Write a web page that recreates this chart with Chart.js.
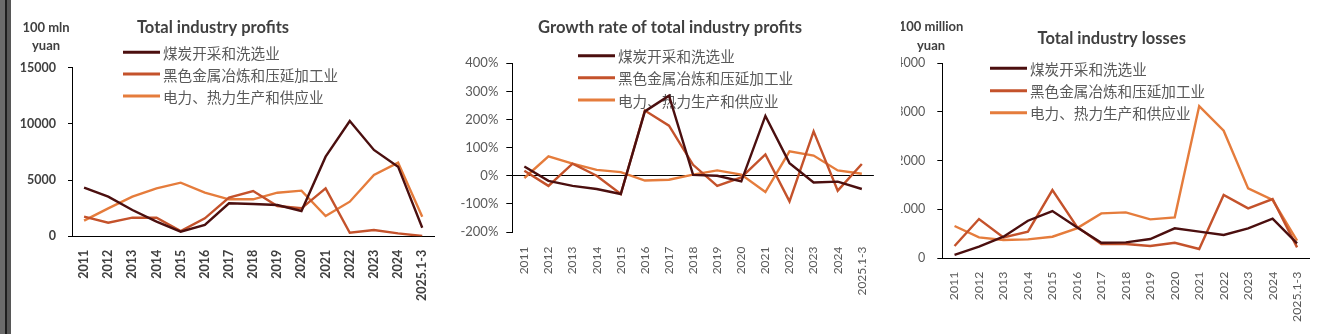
<!DOCTYPE html>
<html>
<head>
<meta charset="utf-8">
<script src="https://cdn.jsdelivr.net/npm/chart.js@4.4.1/dist/chart.umd.min.js"></script>
<style>
  html, body { margin: 0; padding: 0; background: #fff; }
  body { position: relative; width: 1326px; height: 334px; overflow: hidden; }
  .edge { position: absolute; top: 0; height: 334px; }
  canvas { position: absolute; top: 0; }
  #lossClip { position: absolute; left: 901px; top: 0; width: 425px; height: 334px; overflow: hidden; }
</style>
</head>
<body>
<div class="edge" style="left:0;width:5px;background:#6b6b6b"></div>
<div class="edge" style="left:5px;width:2px;background:#1e1e1e"></div>
<div class="edge" style="left:7px;width:4px;background:#575757"></div>

<canvas id="profits" width="440" height="334" style="left:11px"></canvas>
<canvas id="growth" width="446" height="334" style="left:445px"></canvas>
<div id="lossClip"><canvas id="losses" width="441" height="334" style="left:-16px"></canvas></div>

<script>
'use strict';

const categories = ['2011', '2012', '2013', '2014', '2015', '2016', '2017', '2018',
  '2019', '2020', '2021', '2022', '2023', '2024', '2025.1-3'];

const industries = ['煤炭开采和洗选业', '黑色金属冶炼和压延加工业', '电力、热力生产和供应业'];
const colors = ['#4b0f0f', '#c4522b', '#e57c3c'];

// 利润总额, 100 mln yuan
const profitCoal = [4330, 3525, 2340, 1300, 410, 1005, 2935, 2875, 2785, 2250, 7085, 10250, 7680, 6195, 765];
const profitSteel = [1745, 1210, 1655, 1655, 470, 1600, 3435, 4030, 2695, 2490, 4270, 320, 560, 265, 25];
const profitPower = [1390, 2490, 3525, 4270, 4770, 3880, 3290, 3290, 3880, 4060, 1805, 3080, 5455, 6550, 1745];

// 利润总额增速, %
const growthCoal = [33, -18, -36, -47, -65, 229, 285, 3, 0, -20, 213, 45, -24, -21, -47];
const growthSteel = [18, -36, 43, 0, -65, 232, 178, 39, -36, -6, 76, -91, 158, -53, 42];
const growthPower = [-8, 69, 43, 21, 13, -17, -14, 4, 19, 4, -58, 87, 72, 19, 7];

// 亏损总额, 100 million yuan
const lossCoal = [62, 232, 437, 766, 965, 630, 314, 322, 390, 609, 541, 472, 609, 808, 301];
const lossSteel = [246, 800, 424, 541, 1396, 644, 287, 287, 246, 314, 185, 1294, 1020, 1211, 219];
const lossPower = [657, 424, 370, 383, 437, 609, 917, 938, 794, 835, 3121, 2615, 1431, 1191, 356];

const DARK = '#404040';
const GREY = '#595959';
const LATIN = 'Lato, "Liberation Sans", sans-serif';
const CJK = '"Noto Sans CJK SC", sans-serif';

// title, unit caption and legend, placed in canvas pixels
const panelText = {
  id: 'panelText',
  beforeDatasetsDraw(chart, args, opts) {
    const { ctx } = chart;
    ctx.save();
    ctx.textBaseline = 'middle';
    ctx.textAlign = 'center';
    ctx.fillStyle = DARK;
    ctx.font = `bold ${opts.titleSize}px ${LATIN}`;
    ctx.fillText(opts.title, opts.titleX, opts.titleY);
    if (opts.unit) {
      ctx.font = `bold 13px ${LATIN}`;
      opts.unit.forEach((line, i) => ctx.fillText(line, opts.unitX, opts.unitY[i]));
    }
    ctx.textAlign = 'left';
    ctx.font = `14.6px ${CJK}`;
    chart.data.datasets.forEach((ds, i) => {
      const y = opts.legendY[i];
      ctx.strokeStyle = ds.borderColor;
      ctx.lineWidth = 3;
      ctx.beginPath();
      ctx.moveTo(opts.legendX, y);
      ctx.lineTo(opts.legendX + 37, y);
      ctx.stroke();
      ctx.fillStyle = GREY;
      ctx.fillText(ds.label, opts.legendX + 40, y + 1);
    });
    ctx.restore();
  },
};

const series = (values) => values.map((data, i) => ({
  label: industries[i],
  data,
  borderColor: colors[i],
  backgroundColor: colors[i],
  borderWidth: 2.4,
  pointRadius: 0,
  tension: 0,
  fill: false,
}));

window.renderPanel = (canvasId, p) => {
  const zeroLine = p.zeroLine;
  new Chart(document.getElementById(canvasId), {
    type: 'line',
    data: { labels: categories, datasets: series(p.values) },
    plugins: [panelText],
    options: {
      responsive: false,
      animation: false,
      devicePixelRatio: 1,
      layout: { padding: { top: p.top, right: p.right, bottom: 0, left: 0 } },
      plugins: {
        legend: { display: false },
        tooltip: { enabled: false },
        panelText: p.text,
      },
      scales: {
        x: {
          offset: true,
          grid: { display: false, drawTicks: false },
          border: { display: !zeroLine, color: '#000', width: 1 },
          ticks: {
            autoSkip: false,
            minRotation: 90,
            maxRotation: 90,
            padding: p.xPad,
            color: p.xColor,
            font: { family: LATIN, size: p.xSize, weight: p.xWeight },
          },
          afterFit: (scale) => { scale.height = p.xHeight; },
        },
        y: {
          min: p.min,
          max: p.max,
          border: { color: '#000', width: 1 },
          grid: {
            drawOnChartArea: !!zeroLine,
            color: (ctx) => (zeroLine && ctx.tick && ctx.tick.value === 0 ? '#000' : 'rgba(0,0,0,0)'),
            tickColor: '#000',
            tickLength: p.tickLen,
            lineWidth: 1,
          },
          ticks: {
            stepSize: p.step,
            padding: p.yPad,
            color: p.yColor,
            font: { family: LATIN, size: p.ySize, weight: p.yWeight },
            callback: p.format || ((v) => v),
          },
          afterFit: (scale) => { scale.width = p.yWidth; },
        },
      },
    },
  });
};

renderPanel('profits', {
  values: [profitCoal, profitSteel, profitPower],
  min: 0, max: 15000, step: 5000,
  top: 67.7, right: 8, xHeight: 97.7, yWidth: 61,
  tickLen: 4, yPad: 12, xPad: 13.5,
  ySize: 12.5, yWeight: 'bold', yColor: DARK,
  xSize: 12.5, xWeight: 'bold', xColor: DARK,
  text: {
    title: 'Total industry profits', titleSize: 16.5, titleX: 213 - 11, titleY: 28,
    unit: ['100 mln', 'yuan'], unitX: 35, unitY: [28, 46],
    legendX: 112, legendY: [52.3, 74, 96],
  },
});

renderPanel('growth', {
  values: [growthCoal, growthSteel, growthPower],
  min: -200, max: 400, step: 100, zeroLine: true,
  format: (v) => `${v}%`,
  top: 63.3, right: 8.3, xHeight: 102, yWidth: 67.3,
  tickLen: 6, yPad: 8, xPad: 14.5,
  ySize: 13, yWeight: 'normal', yColor: GREY,
  xSize: 12, xWeight: 'normal', xColor: GREY,
  text: {
    title: 'Growth rate of total industry profits', titleSize: 16.6, titleX: 225, titleY: 27.3,
    legendX: 133, legendY: [55.7, 77.7, 100],
  },
});

renderPanel('losses', {
  values: [lossCoal, lossSteel, lossPower],
  min: 0, max: 4000, step: 1000,
  top: 63.3, right: 14, xHeight: 76, yWidth: 57.3,
  tickLen: 5, yPad: 12, xPad: 13.7,
  ySize: 12.5, yWeight: 'normal', yColor: GREY,
  xSize: 12.3, xWeight: 'normal', xColor: GREY,
  text: {
    title: 'Total industry losses', titleSize: 16.5, titleX: 226.7, titleY: 39,
    unit: ['100 million', 'yuan'], unitX: 46, unitY: [27.3, 45.7],
    legendX: 105, legendY: [68.3, 90.7, 112.7],
  },
});
</script>
</body>
</html>
